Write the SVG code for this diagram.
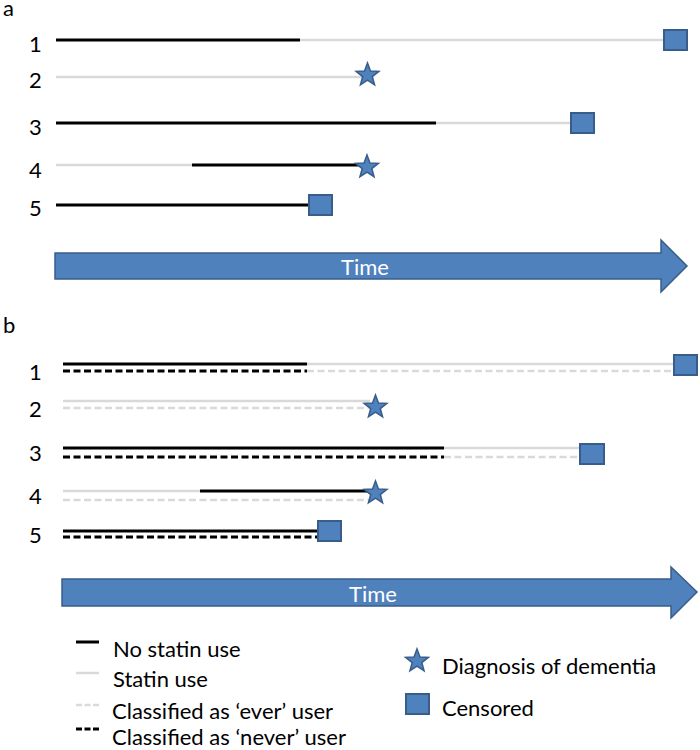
<svg xmlns="http://www.w3.org/2000/svg" xmlns:xlink="http://www.w3.org/1999/xlink" width="700" height="750" viewBox="0 0 700 750">
<style>
text{font-family:Lato,"Liberation Sans",sans-serif;font-size:22px;fill:#000}
.tm{fill:#fff;text-anchor:middle}
.blk{stroke:#000;stroke-width:3;fill:none}
.gry{stroke:#d9d9d9;stroke-width:2.5;fill:none}
.bd{stroke:#000;stroke-width:3;stroke-dasharray:7 3.5;fill:none}
.gd{stroke:#d9d9d9;stroke-width:2.5;stroke-dasharray:7 3.5;fill:none}
.lbd{stroke:#000;stroke-width:3;stroke-dasharray:6 2.5;fill:none}
.lgd{stroke:#d9d9d9;stroke-width:2.5;stroke-dasharray:6 2.5;fill:none}
.cens{fill:#4f81bd;stroke:#385d8a;stroke-width:2}
.arr{fill:#4f81bd;stroke:#385d8a;stroke-width:1.5}
.st{fill:#4f81bd;stroke:#385d8a;stroke-width:1.5}
</style>
<defs>
<path id="star" d="M0,-12 L2.96,-4.08 L11.41,-3.71 L4.79,1.56 L7.05,9.71 L0,5.04 L-7.05,9.71 L-4.79,1.56 L-11.41,-3.71 L-2.96,-4.08 Z"/>
</defs>
<rect width="700" height="750" fill="#fff"/>

<g id="panel-a">
<text x="3" y="16">a</text>
<g id="a-labels">
<text x="29" y="52">1</text>
<text x="29" y="88">2</text>
<text x="29" y="135">3</text>
<text x="29" y="178">4</text>
<text x="29" y="216">5</text>
</g>
<g id="connectors-a">
<line class="blk" x1="56" y1="40" x2="300" y2="40"/>
<line class="gry" x1="300" y1="40" x2="665" y2="40"/>
<line class="gry" x1="56" y1="77" x2="362" y2="77"/>
<line class="blk" x1="56" y1="123" x2="436" y2="123"/>
<line class="gry" x1="436" y1="123" x2="571" y2="123"/>
<line class="gry" x1="56" y1="165" x2="192" y2="165"/>
<line class="blk" x1="192" y1="165" x2="362" y2="165"/>
<line class="blk" x1="56" y1="205" x2="310" y2="205"/>
</g>
<g id="a-r1-end"><rect class="cens" x="664" y="30" width="23" height="20"/></g>
<g id="a-r2-end"><use href="#star" class="st" x="367.5" y="75"/></g>
<g id="a-r3-end"><rect class="cens" x="571" y="113" width="23" height="20"/></g>
<g id="a-r4-end"><use href="#star" class="st" x="367" y="167"/></g>
<g id="a-r5-end"><rect class="cens" x="309" y="195" width="23" height="20"/></g>
<g id="a-time">
<polygon class="arr" points="55,253 661,253 661,240 687,266 661,292 661,279 55,279"/>
<text class="tm" x="365" y="275">Time</text>
</g>
</g>

<g id="panel-b">
<text x="3" y="333">b</text>
<g id="b-labels">
<text x="29" y="380">1</text>
<text x="29" y="417">2</text>
<text x="29" y="461">3</text>
<text x="29" y="504">4</text>
<text x="29" y="543">5</text>
</g>
<g id="connectors-b">
<line class="blk" x1="63" y1="364" x2="307" y2="364"/>
<line class="gry" x1="307" y1="364" x2="675" y2="364"/>
<line class="bd" x1="63" y1="371" x2="307" y2="371"/>
<line class="gd" x1="307" y1="371" x2="675" y2="371"/>
<line class="gry" x1="63" y1="401" x2="370" y2="401"/>
<line class="gd" x1="63" y1="408" x2="370" y2="408"/>
<line class="blk" x1="63" y1="448" x2="444" y2="448"/>
<line class="gry" x1="444" y1="448" x2="580" y2="448"/>
<line class="bd" x1="63" y1="457" x2="444" y2="457"/>
<line class="gd" x1="444" y1="457" x2="580" y2="457"/>
<line class="gry" x1="63" y1="491" x2="200" y2="491"/>
<line class="blk" x1="200" y1="491" x2="370" y2="491"/>
<line class="gd" x1="63" y1="500" x2="370" y2="500"/>
<line class="blk" x1="63" y1="531" x2="318" y2="531"/>
<line class="bd" x1="63" y1="537" x2="318" y2="537"/>
</g>
<g id="b-r1-end"><rect class="cens" x="674" y="355" width="23" height="20"/></g>
<g id="b-r2-end"><use href="#star" class="st" x="375.5" y="407"/></g>
<g id="b-r3-end"><rect class="cens" x="580" y="444" width="24" height="20"/></g>
<g id="b-r4-end"><use href="#star" class="st" x="375.5" y="493"/></g>
<g id="b-r5-end"><rect class="cens" x="318" y="521" width="23" height="20"/></g>
<g id="b-time">
<polygon class="arr" points="62,579 671,579 671,567 697,592 671,618 671,606 62,606"/>
<text class="tm" x="373" y="602">Time</text>
</g>
</g>

<g id="legend">
<g id="leg-nostatin">
<line class="blk" x1="76" y1="642" x2="99" y2="642"/>
<text x="113" y="657">No statin use</text>
</g>
<g id="leg-statin">
<line class="gry" x1="76" y1="673" x2="99" y2="673"/>
<text x="113" y="687">Statin use</text>
</g>
<g id="leg-ever">
<line class="lgd" x1="76" y1="705" x2="99" y2="705"/>
<text x="112" y="719">Classified as ‘ever’ user</text>
</g>
<g id="leg-never">
<line class="lbd" x1="76" y1="729" x2="99" y2="729"/>
<text x="112" y="745">Classified as ‘never’ user</text>
</g>
<g id="leg-dementia">
<use href="#star" class="st" x="417" y="661"/>
<text x="442" y="674">Diagnosis of dementia</text>
</g>
<g id="leg-censored">
<rect class="cens" x="406" y="694" width="23" height="20"/>
<text x="442" y="716">Censored</text>
</g>
</g>
</svg>
